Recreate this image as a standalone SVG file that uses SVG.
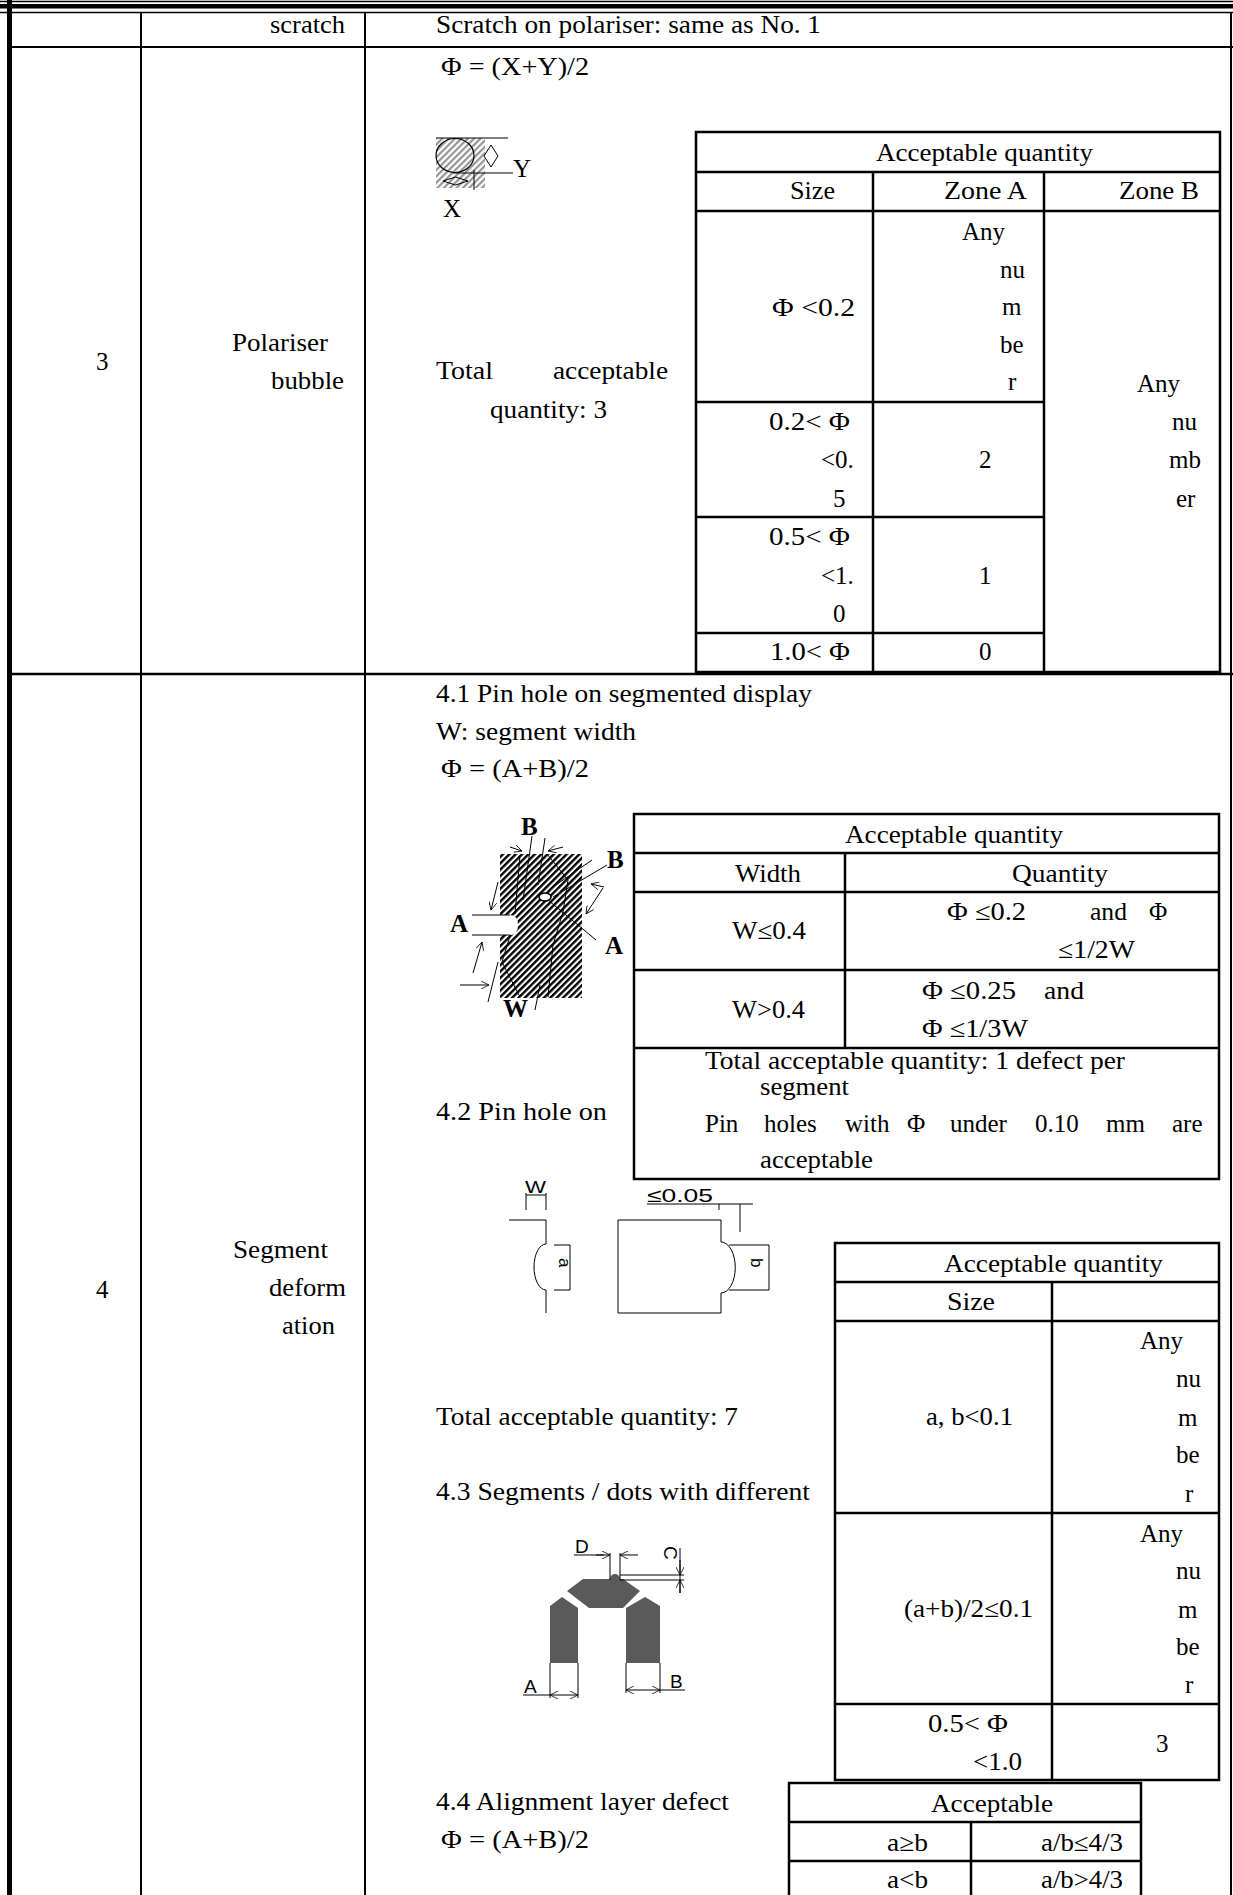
<svg xmlns="http://www.w3.org/2000/svg" width="1233" height="1895" viewBox="0 0 1233 1895">
<defs>
<style>
.t{font-family:"Liberation Serif","Times New Roman",serif;font-size:25px;fill:#000}
.s{font-family:"Liberation Sans",Arial,sans-serif;font-size:15px;fill:#000}
.s17{font-size:17px}
.s19{font-size:19px}
.b{font-weight:bold}
.ln{stroke:#000;stroke-width:2;fill:none}
.tb{stroke:#000;stroke-width:2.5;fill:none}
.th{stroke:#000;stroke-width:1;fill:none}
</style>
<pattern id="hg" patternUnits="userSpaceOnUse" width="4.5" height="4.5" patternTransform="rotate(45)"><rect width="4.5" height="4.5" fill="#fff"/><line x1="1.2" y1="0" x2="1.2" y2="4.5" stroke="#8a8a8a" stroke-width="2"/></pattern>
<pattern id="hb" patternUnits="userSpaceOnUse" width="4.5" height="4.5" patternTransform="rotate(45)"><rect width="4.5" height="4.5" fill="#fff"/><line x1="1.2" y1="0" x2="1.2" y2="4.5" stroke="#000" stroke-width="2.4"/></pattern>
<marker id="ah" viewBox="0 0 10 10" refX="10" refY="5" markerWidth="8" markerHeight="8" orient="auto" markerUnits="userSpaceOnUse"><path d="M0,0 L10,5 L0,10" fill="none" stroke="#000" stroke-width="1"/></marker>
</defs>
<rect width="1233" height="1895" fill="#fff"/>

<g id="frame">
<line x1="0" y1="1.5" x2="1233" y2="1.5" stroke="#000" stroke-width="1.5"/>
<rect x="0" y="4" width="1233" height="4.5" fill="#000"/>
<line x1="0" y1="12.5" x2="1233" y2="12.5" stroke="#000" stroke-width="1.5"/>
<rect x="7" y="0" width="5" height="1895" fill="#000"/>
<line class="ln" x1="141" y1="12" x2="141" y2="1895"/>
<line class="ln" x1="365" y1="12" x2="365" y2="1895"/>
<line class="ln" x1="1231" y1="12" x2="1231" y2="1895"/>
<line class="ln" x1="12" y1="47" x2="1233" y2="47"/>
<line class="tb" x1="12" y1="674" x2="1233" y2="674"/>
</g>

<g id="row-scratch">
<text class="t" x="270" y="33" textLength="75" lengthAdjust="spacingAndGlyphs">scratch</text>
<text class="t" x="436" y="33" textLength="385" lengthAdjust="spacingAndGlyphs">Scratch on polariser: same as No. 1</text>
</g>

<g id="row-3">
<text class="t" x="96" y="370">3</text>
<text class="t" x="232" y="351" textLength="96" lengthAdjust="spacingAndGlyphs">Polariser</text>
<text class="t" x="271" y="389" textLength="73" lengthAdjust="spacingAndGlyphs">bubble</text>
<text class="t" x="441" y="75" textLength="148" lengthAdjust="spacingAndGlyphs">Φ = (X+Y)/2</text>
<text class="t" x="436" y="379" textLength="57" lengthAdjust="spacingAndGlyphs">Total</text>
<text class="t" x="553" y="379" textLength="115" lengthAdjust="spacingAndGlyphs">acceptable</text>
<text class="t" x="490" y="418" textLength="117" lengthAdjust="spacingAndGlyphs">quantity: 3</text>
</g>

<g id="fig-bubble">
<rect x="436" y="138" width="49" height="50" fill="url(#hg)"/>
<ellipse cx="455" cy="155.5" rx="19" ry="17" fill="none" stroke="#000" stroke-width="1.2"/>
<line class="th" x1="436" y1="138" x2="508" y2="138" stroke="#444"/>
<line class="th" x1="453" y1="173" x2="513" y2="173" stroke="#444"/>
<line class="th" x1="474" y1="170" x2="474" y2="190"/>
<polygon class="th" points="491,145 498,156 491,167 484,156"/>
<polygon class="th" points="443,181 455.5,177 468,181 455.5,185"/>
<text class="t" x="513" y="177">Y</text>
<text class="t" x="443" y="217">X</text>
</g>

<g id="table-bubble">
<rect class="tb" x="696" y="132" width="524" height="540"/>
<line class="tb" x1="696" y1="172" x2="1220" y2="172"/>
<line class="tb" x1="696" y1="211" x2="1220" y2="211"/>
<line class="tb" x1="873" y1="172" x2="873" y2="672"/>
<line class="tb" x1="1044" y1="172" x2="1044" y2="672"/>
<line class="tb" x1="696" y1="402" x2="1044" y2="402"/>
<line class="tb" x1="696" y1="517" x2="1044" y2="517"/>
<line class="tb" x1="696" y1="633" x2="1044" y2="633"/>
<text class="t" x="876" y="161" textLength="217" lengthAdjust="spacingAndGlyphs">Acceptable quantity</text>
<text class="t" x="790" y="199" textLength="45" lengthAdjust="spacingAndGlyphs">Size</text>
<text class="t" x="944" y="199" textLength="83" lengthAdjust="spacingAndGlyphs">Zone A</text>
<text class="t" x="1119" y="199" textLength="80" lengthAdjust="spacingAndGlyphs">Zone B</text>
<text class="t" x="962" y="240">Any</text>
<text class="t" x="1000" y="277.5">nu</text>
<text class="t" x="1002" y="315">m</text>
<text class="t" x="1000" y="352.5">be</text>
<text class="t" x="1008" y="390">r</text>
<text class="t" x="772" y="316" textLength="83" lengthAdjust="spacingAndGlyphs">Φ &lt;0.2</text>
<text class="t" x="1137" y="392">Any</text>
<text class="t" x="1172" y="430">nu</text>
<text class="t" x="1169" y="468">mb</text>
<text class="t" x="1176" y="507">er</text>
<text class="t" x="769" y="430" textLength="81" lengthAdjust="spacingAndGlyphs">0.2&lt; Φ</text>
<text class="t" x="821" y="468">&lt;0.</text>
<text class="t" x="833" y="507">5</text>
<text class="t" x="979" y="468">2</text>
<text class="t" x="769" y="545" textLength="81" lengthAdjust="spacingAndGlyphs">0.5&lt; Φ</text>
<text class="t" x="821" y="584">&lt;1.</text>
<text class="t" x="833" y="622">0</text>
<text class="t" x="979" y="584">1</text>
<text class="t" x="770" y="660" textLength="80" lengthAdjust="spacingAndGlyphs">1.0&lt; Φ</text>
<text class="t" x="979" y="660">0</text>
</g>

<g id="row-4">
<text class="t" x="96" y="1298">4</text>
<text class="t" x="233" y="1258" textLength="95" lengthAdjust="spacingAndGlyphs">Segment</text>
<text class="t" x="269" y="1296" textLength="77" lengthAdjust="spacingAndGlyphs">deform</text>
<text class="t" x="282" y="1334" textLength="53" lengthAdjust="spacingAndGlyphs">ation</text>
<text class="t" x="436" y="702" textLength="376" lengthAdjust="spacingAndGlyphs">4.1 Pin hole on segmented display</text>
<text class="t" x="436" y="740" textLength="200" lengthAdjust="spacingAndGlyphs">W: segment width</text>
<text class="t" x="441" y="777" textLength="148" lengthAdjust="spacingAndGlyphs">Φ = (A+B)/2</text>
<text class="t" x="436" y="1120" textLength="171" lengthAdjust="spacingAndGlyphs">4.2 Pin hole on</text>
<text class="t" x="436" y="1425" textLength="302" lengthAdjust="spacingAndGlyphs">Total acceptable quantity: 7</text>
<text class="t" x="436" y="1500" textLength="374" lengthAdjust="spacingAndGlyphs">4.3 Segments / dots with different</text>
<text class="t" x="436" y="1810" textLength="293" lengthAdjust="spacingAndGlyphs">4.4 Alignment layer defect</text>
<text class="t" x="441" y="1848" textLength="148" lengthAdjust="spacingAndGlyphs">Φ = (A+B)/2</text>
</g>

<g id="table-pinhole">
<rect class="tb" x="634" y="814" width="585" height="365"/>
<line class="tb" x1="634" y1="853" x2="1219" y2="853"/>
<line class="tb" x1="634" y1="892" x2="1219" y2="892"/>
<line class="tb" x1="634" y1="970" x2="1219" y2="970"/>
<line class="tb" x1="634" y1="1048" x2="1219" y2="1048"/>
<line class="tb" x1="845" y1="853" x2="845" y2="1048"/>
<text class="t" x="845" y="843" textLength="218" lengthAdjust="spacingAndGlyphs">Acceptable quantity</text>
<text class="t" x="735" y="882" textLength="66" lengthAdjust="spacingAndGlyphs">Width</text>
<text class="t" x="1012" y="882" textLength="96" lengthAdjust="spacingAndGlyphs">Quantity</text>
<text class="t" x="732" y="939" textLength="74" lengthAdjust="spacingAndGlyphs">W≤0.4</text>
<text class="t" x="947" y="920" textLength="79" lengthAdjust="spacingAndGlyphs">Φ ≤0.2</text>
<text class="t" x="1090" y="920" textLength="37" lengthAdjust="spacingAndGlyphs">and</text>
<text class="t" x="1149" y="920">Φ</text>
<text class="t" x="1058" y="958" textLength="77" lengthAdjust="spacingAndGlyphs">≤1/2W</text>
<text class="t" x="732" y="1018" textLength="73" lengthAdjust="spacingAndGlyphs">W&gt;0.4</text>
<text class="t" x="922" y="999" textLength="94" lengthAdjust="spacingAndGlyphs">Φ ≤0.25</text>
<text class="t" x="1044" y="999" textLength="40" lengthAdjust="spacingAndGlyphs">and</text>
<text class="t" x="922" y="1037" textLength="106" lengthAdjust="spacingAndGlyphs">Φ ≤1/3W</text>
<text class="t" x="705" y="1069" textLength="420" lengthAdjust="spacingAndGlyphs">Total acceptable quantity: 1 defect per</text>
<text class="t" x="760" y="1095" textLength="89" lengthAdjust="spacingAndGlyphs">segment</text>
<text class="t" x="705" y="1132">Pin</text>
<text class="t" x="764" y="1132">holes</text>
<text class="t" x="845" y="1132">with</text>
<text class="t" x="907" y="1132">Φ</text>
<text class="t" x="950" y="1132">under</text>
<text class="t" x="1035" y="1132">0.10</text>
<text class="t" x="1106" y="1132">mm</text>
<text class="t" x="1172" y="1132">are</text>
<text class="t" x="760" y="1168" textLength="113" lengthAdjust="spacingAndGlyphs">acceptable</text>
</g>

<g id="fig-pinhole">
<rect x="500" y="854" width="82" height="144" fill="url(#hb)"/>
<path d="M499,915 H510 Q518,915 518,925 Q518,935 510,935 H499 Z" fill="#fff"/>
<line class="th" x1="472" y1="915" x2="510" y2="915"/>
<line class="th" x1="472" y1="935" x2="510" y2="935"/>
<path class="th" d="M547,854 L568,880 L563,912 L553,945 L548,997" stroke-width="1.3"/>
<path class="th" d="M520,855 L515,914 M510,936 L502,962 L520,997" stroke-width="1.3"/>
<ellipse cx="545" cy="897" rx="6" ry="4" fill="#fff" stroke="#000" stroke-width="1.5"/>
<text class="t b" x="521" y="835">B</text>
<text class="t b" x="607" y="868">B</text>
<text class="t b" x="450" y="932">A</text>
<text class="t b" x="605" y="954">A</text>
<text class="t b" x="503" y="1017">W</text>
</g>

<g id="fig-deform">
<text class="s s17" x="525" y="1193" textLength="21" lengthAdjust="spacingAndGlyphs">W</text>
<line class="th" x1="526" y1="1193" x2="526" y2="1210"/>
<line class="th" x1="546" y1="1193" x2="546" y2="1210"/>
<line class="th" x1="526" y1="1195" x2="546" y2="1195"/>
<path class="th" d="M509,1220 H546 V1244 A12,23 0 0 0 546,1290 V1313" stroke-width="1.3"/>
<path class="th" d="M554,1245 H570 V1290 H554"/>
<text class="s s17" x="0" y="0" transform="translate(559,1258) rotate(90)">a</text>
<path class="th" d="M721,1220 H618 V1313 H721 V1293 A14,25 0 0 0 721,1242 Z" stroke-width="1.3"/>
<path class="th" d="M729,1245 H769 V1290 H729"/>
<text class="s s17" x="0" y="0" transform="translate(751,1258) rotate(90)">b</text>
<text class="s s19" x="647" y="1202" textLength="66" lengthAdjust="spacingAndGlyphs">≤0.05</text>
<line class="th" x1="647" y1="1204" x2="753" y2="1204"/>
<line class="th" x1="740" y1="1204" x2="740" y2="1232"/>
<line class="th" x1="719" y1="1204" x2="719" y2="1210"/>
</g>

<g id="table-deform">
<rect class="tb" x="835" y="1243" width="384" height="537"/>
<line class="tb" x1="835" y1="1282" x2="1219" y2="1282"/>
<line class="tb" x1="835" y1="1321" x2="1219" y2="1321"/>
<line class="tb" x1="835" y1="1513" x2="1219" y2="1513"/>
<line class="tb" x1="835" y1="1704" x2="1219" y2="1704"/>
<line class="tb" x1="1052" y1="1282" x2="1052" y2="1780"/>
<text class="t" x="944" y="1272" textLength="219" lengthAdjust="spacingAndGlyphs">Acceptable quantity</text>
<text class="t" x="947" y="1310" textLength="48" lengthAdjust="spacingAndGlyphs">Size</text>
<text class="t" x="1140" y="1349">Any</text>
<text class="t" x="1176" y="1387">nu</text>
<text class="t" x="1178" y="1426">m</text>
<text class="t" x="1176" y="1463">be</text>
<text class="t" x="1185" y="1502">r</text>
<text class="t" x="926" y="1425" textLength="87" lengthAdjust="spacingAndGlyphs">a, b&lt;0.1</text>
<text class="t" x="1140" y="1542">Any</text>
<text class="t" x="1176" y="1579">nu</text>
<text class="t" x="1178" y="1618">m</text>
<text class="t" x="1176" y="1655">be</text>
<text class="t" x="1185" y="1693">r</text>
<text class="t" x="904" y="1617" textLength="129" lengthAdjust="spacingAndGlyphs">(a+b)/2≤0.1</text>
<text class="t" x="928" y="1732" textLength="80" lengthAdjust="spacingAndGlyphs">0.5&lt; Φ</text>
<text class="t" x="973" y="1770" textLength="49" lengthAdjust="spacingAndGlyphs">&lt;1.0</text>
<text class="t" x="1156" y="1752">3</text>
</g>

<g id="fig-segments">
<polygon points="567,1591 583,1579 623,1579 640,1591 623,1608 589,1608" fill="#5a5a5a"/>
<circle cx="615" cy="1579" r="5" fill="#5a5a5a"/>
<polygon points="550,1606 562,1597 578,1608 578,1663 550,1663" fill="#5a5a5a"/>
<polygon points="626,1608 645,1597 660,1606 660,1663 626,1663" fill="#5a5a5a"/>
<line class="th" x1="550" y1="1663" x2="550" y2="1698"/>
<line class="th" x1="578" y1="1663" x2="578" y2="1698"/>
<line class="th" x1="523" y1="1695" x2="550" y2="1695"/>
<line class="th" x1="626" y1="1663" x2="626" y2="1693"/>
<line class="th" x1="660" y1="1663" x2="660" y2="1693"/>
<line class="th" x1="660" y1="1690" x2="685" y2="1690"/>
<line class="th" x1="574" y1="1555" x2="604" y2="1555"/>
<line class="th" x1="610" y1="1553" x2="610" y2="1580"/>
<line class="th" x1="620" y1="1553" x2="620" y2="1580"/>
<line class="th" x1="620" y1="1575" x2="684" y2="1575"/>
<line class="th" x1="620" y1="1580" x2="684" y2="1580"/>
<line class="th" x1="680" y1="1548" x2="680" y2="1593"/>
<text class="s s19" x="524" y="1693">A</text>
<text class="s s19" x="670" y="1688">B</text>
<text class="s s19" x="575" y="1553">D</text>
<text class="s s19" x="0" y="0" transform="translate(664,1546) rotate(90)">C</text>
</g>

<g id="table-align">
<path class="tb" d="M789,1895 V1783 H1141 V1895"/>
<line class="tb" x1="789" y1="1822" x2="1141" y2="1822"/>
<line class="tb" x1="789" y1="1861" x2="1141" y2="1861"/>
<line class="tb" x1="971" y1="1822" x2="971" y2="1895"/>
<text class="t" x="931" y="1812" textLength="122" lengthAdjust="spacingAndGlyphs">Acceptable</text>
<text class="t" x="887" y="1851" textLength="41" lengthAdjust="spacingAndGlyphs">a≥b</text>
<text class="t" x="1041" y="1851" textLength="82" lengthAdjust="spacingAndGlyphs">a/b≤4/3</text>
<text class="t" x="887" y="1888" textLength="41" lengthAdjust="spacingAndGlyphs">a&lt;b</text>
<text class="t" x="1041" y="1888" textLength="82" lengthAdjust="spacingAndGlyphs">a/b&gt;4/3</text>
</g>

<g id="connectors" stroke="#000" stroke-width="1" fill="none">
<line x1="510" y1="847" x2="522" y2="851" marker-end="url(#ah)"/>
<line x1="563" y1="847" x2="548" y2="851" marker-end="url(#ah)"/>
<line x1="532" y1="836" x2="523" y2="900"/>
<line x1="545" y1="838" x2="538" y2="885"/>
<line x1="607" y1="865" x2="553" y2="897"/>
<line x1="592" y1="860" x2="550" y2="889"/>
<line x1="596" y1="940" x2="548" y2="900"/>
<line x1="603" y1="888" x2="586" y2="914" marker-end="url(#ah)"/>
<line x1="604" y1="887" x2="591" y2="884" marker-end="url(#ah)"/>
<line x1="498" y1="882" x2="491" y2="910" marker-end="url(#ah)"/>
<line x1="473" y1="973" x2="482" y2="942" marker-end="url(#ah)"/>
<line x1="460" y1="985" x2="489" y2="985" marker-end="url(#ah)"/>
<line x1="498" y1="962" x2="488" y2="1002"/>
<line x1="540" y1="985" x2="535" y2="1010"/>
<line x1="596" y1="1555" x2="610" y2="1555" marker-end="url(#ah)"/>
<line x1="638" y1="1555" x2="620" y2="1555" marker-end="url(#ah)"/>
<line x1="680" y1="1560" x2="680" y2="1575" marker-end="url(#ah)"/>
<line x1="680" y1="1593" x2="680" y2="1580" marker-end="url(#ah)"/>
<line x1="564" y1="1695" x2="550" y2="1695" marker-end="url(#ah)"/>
<line x1="564" y1="1695" x2="578" y2="1695" marker-end="url(#ah)"/>
<line x1="643" y1="1690" x2="626" y2="1690" marker-end="url(#ah)"/>
<line x1="643" y1="1690" x2="660" y2="1690" marker-end="url(#ah)"/>
</g>
</svg>
